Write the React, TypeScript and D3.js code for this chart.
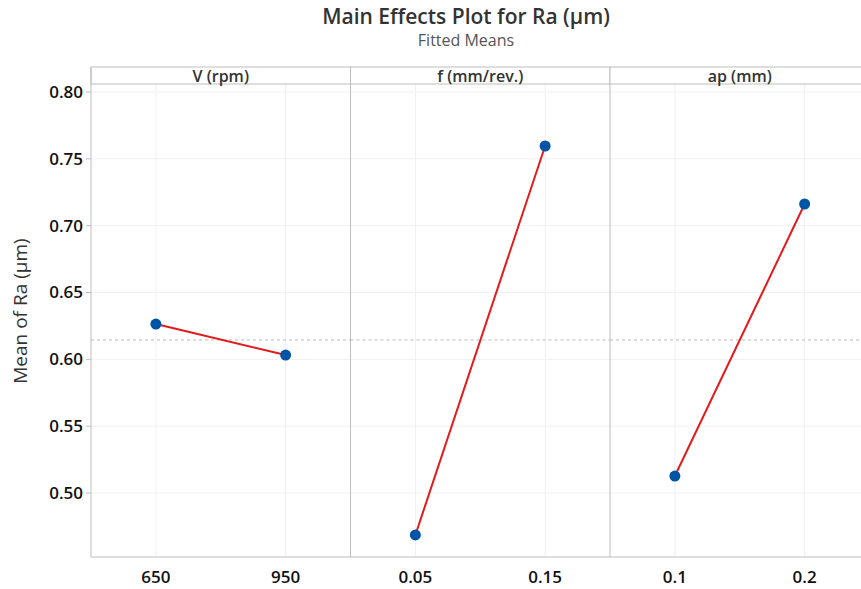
import React, { useEffect, useRef } from 'react';
import * as d3 from 'd3';

// factor panels
const factors = ['V (rpm)', 'f (mm/rev.)', 'ap (mm)'];
const levels = [
  ['650', '950'],
  ['0.05', '0.15'],
  ['0.1', '0.2'],
];
const means = [
  [0.6264, 0.6032],
  [0.4686, 0.7596],
  [0.5127, 0.7162],
];
const grandMean = 0.6145;
const yTicks = [0.5, 0.55, 0.6, 0.65, 0.7, 0.75, 0.8];

const W = 861;
const H = 589;
const FONT = '"Open Sans", "Noto Sans", sans-serif';

const App = () => {
  const ref = useRef<SVGSVGElement>(null);

  useEffect(() => {
    const svg = d3.select(ref.current);
    svg.selectAll('*').remove();

    const left = 91, panelW = 259.5, top = 67, headerH = 17, bottom = 557;
    const right = left + panelW * factors.length; // runs past the window edge
    const plotTop = top + headerH;

    const y = d3.scaleLinear()
      .domain([0.80, 0.50])
      .range([92, 493]);

    svg.append('rect').attr('width', W).attr('height', H).attr('fill', '#fff');

    // title
    svg.append('text')
      .attr('x', 466).attr('y', 24)
      .attr('text-anchor', 'middle')
      .attr('font-family', FONT).attr('font-size', 21).attr('font-weight', 600)
      .attr('fill', '#333')
      .text('Main Effects Plot for Ra (μm)');
    svg.append('text')
      .attr('x', 466).attr('y', 46)
      .attr('text-anchor', 'middle')
      .attr('font-family', FONT).attr('font-size', 16)
      .attr('fill', '#555')
      .text('Fitted Means');

    // horizontal gridlines
    svg.append('g')
      .selectAll('line')
      .data(yTicks)
      .join('line')
      .attr('x1', left).attr('x2', right)
      .attr('y1', d => y(d)).attr('y2', d => y(d))
      .attr('stroke', '#f0f0f0').attr('stroke-width', 1);

    factors.forEach((name, i) => {
      const x0 = left + i * panelW;
      const x = d3.scalePoint<string>()
        .domain(levels[i])
        .range([x0, x0 + panelW])
        .padding(0.5);

      const g = svg.append('g');

      // vertical gridlines
      g.selectAll('line.vg')
        .data(levels[i])
        .join('line')
        .attr('class', 'vg')
        .attr('x1', d => x(d)!).attr('x2', d => x(d)!)
        .attr('y1', plotTop).attr('y2', bottom)
        .attr('stroke', '#f0f0f0');

      // header
      g.append('rect')
        .attr('x', x0).attr('y', top)
        .attr('width', panelW).attr('height', headerH)
        .attr('fill', '#fff').attr('stroke', '#bdbdbd');
      g.append('text')
        .attr('x', x0 + panelW / 2).attr('y', top + 15)
        .attr('text-anchor', 'middle')
        .attr('font-family', FONT).attr('font-size', 16).attr('font-weight', 600)
        .attr('fill', '#333')
        .text(name);

      // panel separator
      if (i > 0) {
        g.append('line')
          .attr('x1', x0).attr('x2', x0)
          .attr('y1', plotTop).attr('y2', bottom)
          .attr('stroke', '#bdbdbd');
      }

      // x tick labels
      g.selectAll('text.xt')
        .data(levels[i])
        .join('text')
        .attr('class', 'xt')
        .attr('x', d => x(d)!).attr('y', 583)
        .attr('text-anchor', 'middle')
        .attr('font-family', FONT).attr('font-size', 17).attr('font-weight', 600)
        .attr('fill', '#111')
        .text(d => d);

      // grand mean reference line
      g.append('line')
        .attr('x1', x0).attr('x2', x0 + panelW)
        .attr('y1', y(grandMean)).attr('y2', y(grandMean))
        .attr('stroke', '#bbbbbb').attr('stroke-dasharray', '3,3');

      const pts = levels[i].map((l, j) => ({ l, v: means[i][j] }));
      const line = d3.line<{ l: string; v: number }>()
        .x(d => x(d.l)!)
        .y(d => y(d.v));
      g.append('path')
        .datum(pts)
        .attr('d', line)
        .attr('fill', 'none')
        .attr('stroke', '#e31a1c').attr('stroke-width', 2);
      g.selectAll('circle')
        .data(pts)
        .join('circle')
        .attr('cx', d => x(d.l)!).attr('cy', d => y(d.v))
        .attr('r', 5.5)
        .attr('fill', '#0054a6');
    });

    // left and bottom axis lines
    svg.append('line')
      .attr('x1', left).attr('x2', left)
      .attr('y1', top).attr('y2', bottom)
      .attr('stroke', '#bdbdbd');
    svg.append('line')
      .attr('x1', left).attr('x2', right)
      .attr('y1', bottom).attr('y2', bottom)
      .attr('stroke', '#bdbdbd');

    // y axis ticks
    const yAxis = svg.append('g');
    yAxis.selectAll('line')
      .data(yTicks)
      .join('line')
      .attr('x1', left - 5).attr('x2', left)
      .attr('y1', d => y(d)).attr('y2', d => y(d))
      .attr('stroke', '#bdbdbd');
    yAxis.selectAll('text')
      .data(yTicks)
      .join('text')
      .attr('x', left - 8).attr('y', d => y(d))
      .attr('dy', '0.35em')
      .attr('text-anchor', 'end')
      .attr('font-family', FONT).attr('font-size', 17).attr('font-weight', 600)
      .attr('fill', '#111')
      .text(d => d3.format('.2f')(d));

    svg.append('text')
      .attr('transform', `translate(27,311) rotate(-90)`)
      .attr('text-anchor', 'middle')
      .attr('font-family', FONT).attr('font-size', 19)
      .attr('fill', '#333')
      .text('Mean of Ra (μm)');
  }, []);

  return <svg ref={ref} width={W} height={H} style={{ position: 'absolute', left: 0, top: 0 }} />;
};

export default App;
